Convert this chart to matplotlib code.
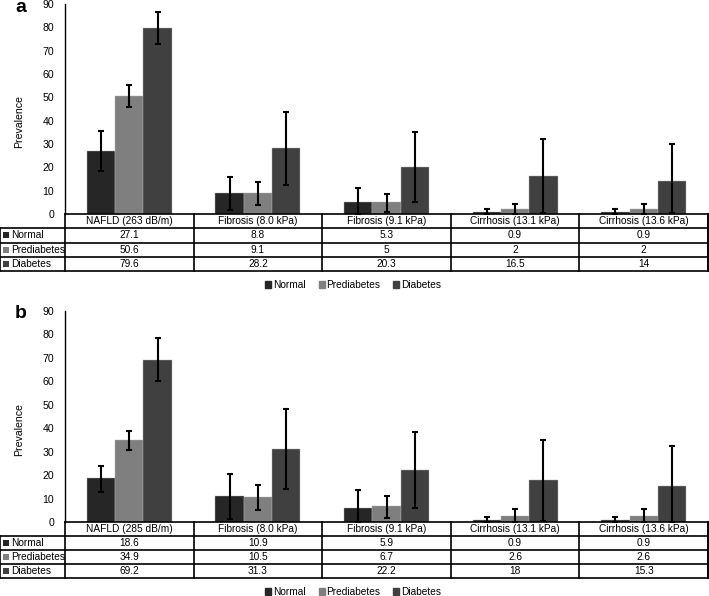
import matplotlib
matplotlib.use("Agg")
import matplotlib.pyplot as plt
import numpy as np
from matplotlib.patches import Patch

plt.rcParams['font.family'] = ['Liberation Sans', 'DejaVu Sans']

series = ["Normal", "Prediabetes", "Diabetes"]
colors = ["#262626", "#7f7f7f", "#404040"]

categories_a = ["NAFLD (263 dB/m)", "Fibrosis (8.0 kPa)", "Fibrosis (9.1 kPa)",
                "Cirrhosis (13.1 kPa)", "Cirrhosis (13.6 kPa)"]
categories_b = ["NAFLD (285 dB/m)", "Fibrosis (8.0 kPa)", "Fibrosis (9.1 kPa)",
                "Cirrhosis (13.1 kPa)", "Cirrhosis (13.6 kPa)"]

a_normal = [27.1, 8.8, 5.3, 0.9, 0.9]
a_pre = [50.6, 9.1, 5, 2, 2]
a_dia = [79.6, 28.2, 20.3, 16.5, 14]
a_normal_lo = [18.3, 1.6, 0.0, 0.0, 0.0]
a_normal_hi = [35.5, 15.7, 11.0, 2.0, 2.0]
a_pre_lo = [45.8, 4.0, 1.0, 0.0, 0.0]
a_pre_hi = [55.3, 13.8, 8.7, 4.1, 4.1]
a_dia_lo = [72.9, 12.6, 5.3, 0.4, 0.4]
a_dia_hi = [86.6, 43.8, 35.0, 32.1, 30.1]

b_normal = [18.6, 10.9, 5.9, 0.9, 0.9]
b_pre = [34.9, 10.5, 6.7, 2.6, 2.6]
b_dia = [69.2, 31.3, 22.2, 18, 15.3]
b_normal_lo = [12.8, 1.1, 0.0, 0.0, 0.0]
b_normal_hi = [24.0, 20.4, 13.7, 2.0, 2.0]
b_pre_lo = [30.7, 5.0, 1.7, 0.0, 0.0]
b_pre_hi = [38.8, 15.8, 11.3, 5.4, 5.4]
b_dia_lo = [60.2, 14.0, 5.8, 0.6, 0.0]
b_dia_hi = [78.3, 48.4, 38.4, 35.1, 32.5]

yticks = [0, 10, 20, 30, 40, 50, 60, 70, 80, 90]

W, H = 709, 596
fig = plt.figure(figsize=(W / 100, H / 100), dpi=100)

FS = 7.3
LW = 1.2
colw = (708 - 65) / 5.0   # px per category
lab_units = 65 / colw


def fx(px):
    return px / W


def fy(px):
    return 1 - px / H


def panel(letter, cats, vals, los, his, top, zero, tbot, legy, lab_y):
    ax = fig.add_axes([fx(65), fy(zero), fx(708 - 65), (zero - top) / H])
    x = np.arange(len(cats))
    bw = 0.22
    for i, (v, lo, hi) in enumerate(zip(vals, los, his)):
        xi = x + (i - 1) * bw
        v = np.array(v)
        yerr = np.vstack([v - np.array(lo), np.array(hi) - v])
        ax.bar(xi, v, width=bw, color=colors[i], edgecolor='#b0b0b0', linewidth=0.3,
               label=series[i], zorder=2)
        ax.errorbar(xi, v, yerr=yerr, fmt='none', ecolor='black', elinewidth=1.5,
                    capsize=2.0, capthick=1.5, zorder=3, clip_on=False)
    ax.set_xlim(-0.5, len(cats) - 0.5)
    ax.set_ylim(0, 90)
    ax.set_yticks(yticks)
    ax.tick_params(axis='y', length=0, pad=8, labelsize=FS + 0.3)
    ax.set_xticks([])
    for s in ['top', 'right', 'bottom']:
        ax.spines[s].set_visible(False)
    ax.spines['left'].set_linewidth(1.0)
    ax.text(fx(19), fy(lab_y), "Prevalence", rotation=90, fontsize=FS + 0.3,
            transform=fig.transFigure, ha='center', va='center')
    fig.text(fx(21), fy(top + 3), letter, fontsize=14, fontweight='bold',
             ha='center', va='center')

    # table
    tax = fig.add_axes([fx(0), fy(tbot), fx(708), (tbot - zero) / H])
    tax.set_xlim(-0.5 - lab_units, len(cats) - 0.5)
    nrows = 4
    tax.set_ylim(nrows, 0)
    tax.axis('off')
    L = -0.5 - lab_units + 0.5 / colw
    R = len(cats) - 0.5 - 0.5 / colw
    tax.plot([-0.5, R], [0, 0], color='black', lw=LW, clip_on=False)
    for r in range(1, nrows + 1):
        tax.plot([L, R], [r, r], color='black', lw=LW, clip_on=False)
    tax.plot([L, L], [1, nrows], color='black', lw=LW, clip_on=False)
    for c in range(len(cats) + 1):
        tax.plot([c - 0.5, c - 0.5], [0, nrows], color='black', lw=LW, clip_on=False)
    tax.plot([R, R], [0, nrows], color='black', lw=LW, clip_on=False)
    for c, cat in enumerate(cats):
        tax.text(c, 0.5, cat, ha='center', va='center', fontsize=FS)
    for r, (name, v) in enumerate(zip(series, vals)):
        yy = r + 1.5
        tax.scatter([L + 6 / colw], [yy], marker='s', s=20, color=colors[r],
                    clip_on=False, linewidths=0)
        tax.text(L + 10.5 / colw, yy, name, ha='left', va='center', fontsize=FS)
        for c, val in enumerate(v):
            tax.text(c, yy, f"{val:g}", ha='center', va='center', fontsize=FS)

    handles = [Patch(color=colors[i], label=series[i]) for i in range(3)]
    fig.legend(handles=handles, loc='center', bbox_to_anchor=(fx(353), fy(legy)),
               ncol=3, frameon=False, fontsize=FS, handlelength=0.6, handleheight=0.6,
               handletextpad=0.15, columnspacing=1.3, borderpad=0)


panel("a", categories_a, [a_normal, a_pre, a_dia],
      [a_normal_lo, a_pre_lo, a_dia_lo], [a_normal_hi, a_pre_hi, a_dia_hi],
      top=4, zero=214, tbot=271, legy=285, lab_y=122)
panel("b", categories_b, [b_normal, b_pre, b_dia],
      [b_normal_lo, b_pre_lo, b_dia_lo], [b_normal_hi, b_pre_hi, b_dia_hi],
      top=311, zero=522, tbot=578, legy=592, lab_y=430)

fig.savefig("out.png", dpi=100)
